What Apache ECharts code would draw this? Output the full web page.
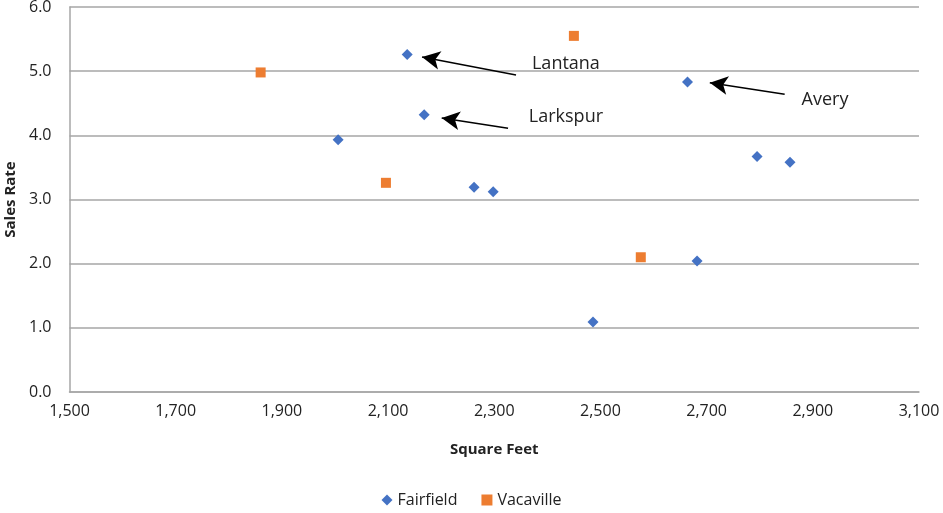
<!DOCTYPE html>
<html>
<head>
<meta charset="utf-8">
<script src="https://cdn.jsdelivr.net/npm/echarts@6/dist/echarts.min.js"></script>
<style>
  html, body { margin: 0; padding: 0; background: #fff; }
  #chart { width: 943px; height: 513px; }
</style>
</head>
<body>
<div id="chart"></div>
<script>
// data
var fairfield = [
  [2136, 5.26], [2168, 4.32], [2006, 3.93], [2262, 3.19], [2298, 3.12],
  [2486, 1.09], [2664, 4.83], [2682, 2.04], [2795, 3.67], [2857, 3.58]
];
var vacaville = [
  [1860, 4.98], [2450, 5.55], [2096, 3.26], [2576, 2.10]
];
// callouts: [label, arrow tail, arrow head, label position]
var callouts = [
  ['Lantana',   [2341, 4.94], [2164, 5.22], [2435, 5.11]],
  ['Larkspur',  [2326, 4.11], [2201, 4.27], [2435, 4.29]],
  ['Avery',     [2847, 4.64], [2706, 4.82], [2923, 4.55]]
];

var font = 'Open Sans';
var myChart = echarts.init(document.getElementById('chart'));
var option = {
  animation: false,
  textStyle: { fontFamily: font },
  grid: { left: 69.5, right: 24, top: 7, bottom: 121, outerBoundsMode: 'none', containLabel: false },
  legend: {
    bottom: 0,
    left: 'center',
    itemWidth: 11, itemHeight: 11, itemGap: 24,
    textStyle: { fontFamily: font, fontSize: 16, color: '#222' },
    data: [
      { name: 'Fairfield', icon: 'diamond' },
      { name: 'Vacaville', icon: 'rect' }
    ]
  },
  xAxis: {
    type: 'value',
    min: 1500, max: 3100, interval: 200,
    name: 'Square Feet',
    nameLocation: 'middle',
    nameGap: 50,
    nameTextStyle: { fontFamily: font, fontSize: 15, fontWeight: 'bold', color: '#222' },
    axisLine: { show: true, lineStyle: { color: '#a6a6a6', width: 1.5 } },
    axisTick: { show: false },
    splitLine: { show: false },
    axisLabel: {
      margin: 11, fontSize: 16, color: '#222', fontFamily: font,
      formatter: function (v) { return v.toLocaleString('en-US'); }
    }
  },
  yAxis: {
    type: 'value',
    min: 0, max: 6, interval: 1,
    name: 'Sales Rate',
    nameLocation: 'middle',
    nameGap: 50,
    nameTextStyle: { fontFamily: font, fontSize: 15, fontWeight: 'bold', color: '#222' },
    axisLine: { show: true, lineStyle: { color: '#a6a6a6', width: 1.5 } },
    axisTick: { show: false },
    splitLine: { show: true, lineStyle: { color: '#a6a6a6', width: 1.5 } },
    axisLabel: {
      margin: 18, fontSize: 16, color: '#222', fontFamily: font,
      formatter: function (v) { return v.toFixed(1); }
    }
  },
  series: [
    {
      name: 'Fairfield',
      type: 'scatter',
      symbol: 'diamond',
      symbolSize: 11,
      itemStyle: { color: '#4472C4', opacity: 1 },
      data: fairfield,
      markLine: {
        silent: true,
        symbol: ['none', 'arrow'],
        symbolSize: [14, 18],
        lineStyle: { color: '#000', width: 1.5, type: 'solid' },
        label: { show: false },
        data: callouts.map(function (c) {
          return [{ coord: c[1] }, { coord: c[2] }];
        })
      },
      markPoint: {
        silent: true,
        symbol: 'circle',
        symbolSize: 0,
        label: {
          show: true, position: 'inside',
          fontFamily: font, fontSize: 18, color: '#222',
          formatter: function (p) { return p.name; }
        },
        data: callouts.map(function (c) {
          return { name: c[0], coord: c[3] };
        })
      }
    },
    {
      name: 'Vacaville',
      type: 'scatter',
      symbol: 'rect',
      symbolSize: 10,
      itemStyle: { color: '#ED7D31', opacity: 1 },
      data: vacaville
    }
  ]
};
myChart.setOption(option);
</script>
</body>
</html>
